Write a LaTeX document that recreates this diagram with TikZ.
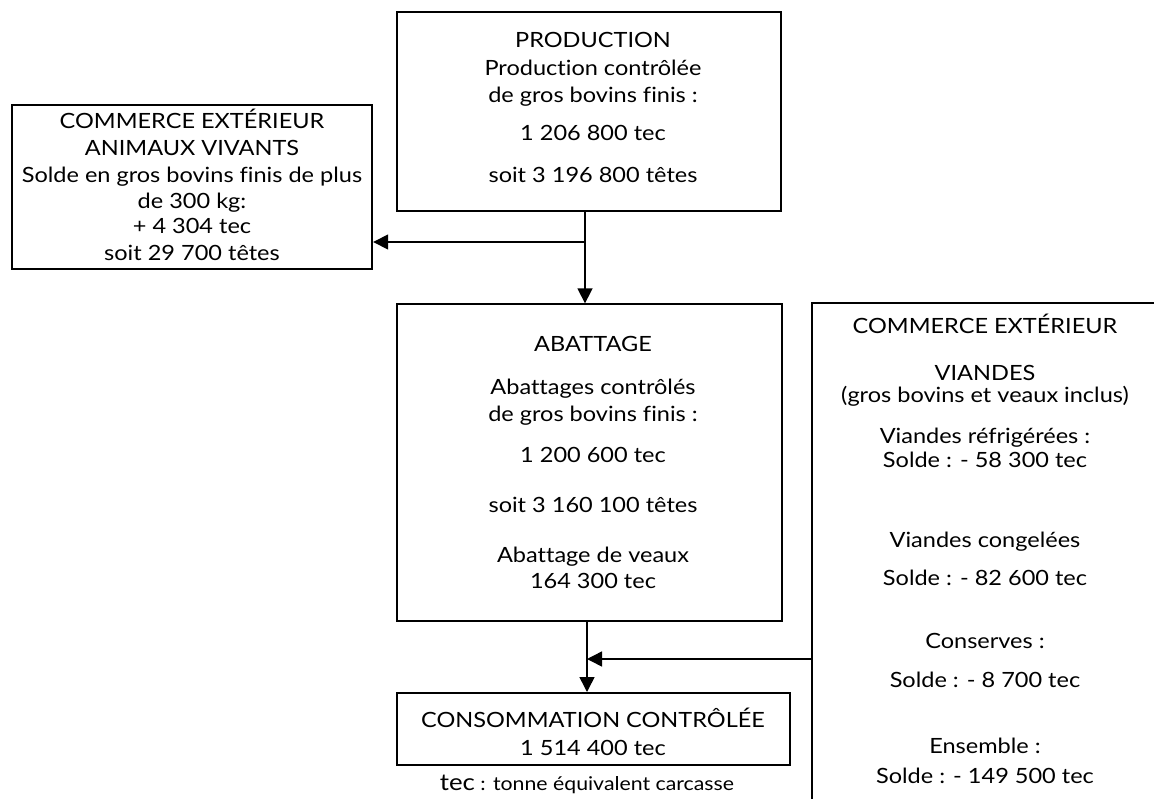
\documentclass[tikz,border=0pt]{standalone}
\usepackage{fontspec}
\setmainfont[FakeStretch=1.12,Ligatures=NoCommon]{Lato}
\usetikzlibrary{arrows.meta}
\begin{document}
\begin{tikzpicture}[x=1pt,y=-1pt,
  box/.style={draw,inner sep=0pt,rectangle},
  thin box/.style={box,line width=1.3pt},
  thick box/.style={box,line width=2.4pt},
  txt/.style={anchor=base,inner sep=0pt,font=\fontsize{21}{25}\selectfont},
  arr/.style={line width=1.5pt,-{Triangle[length=15pt,width=15pt]}}]
\useasboundingbox (0,0) rectangle (1154,798);
% boxes
\node[thin box,minimum width=384pt,minimum height=199pt] (prod) at (589,111.5) {};
\node[thick box,minimum width=360pt,minimum height=164pt] (ext) at (192,187) {};
\node[thin box,minimum width=385pt,minimum height=317pt] (abat) at (589.5,462.5) {};
\node[box,line width=2pt,minimum width=393pt,minimum height=72pt] (cons) at (593.5,729) {};
\node[thick box,minimum width=358pt,minimum height=512pt] (viandes) at (991,559) {};
% texts
\foreach \t/\y [count=\i] in {PRODUCTION/47,Production contrôlée/75,de gros bovins finis :/102,1 206 800 tec/140,soit 3 196 800 têtes/182}
  \node[txt] (prodt\i) at (593,\y) {\t};
\foreach \t/\y [count=\i] in {COMMERCE EXTÉRIEUR/128,ANIMAUX VIVANTS/155,Solde en gros bovins finis de plus/182,de 300 kg:/208,+ 4 304 tec/233,soit 29 700 têtes/260}
  \node[txt] (extt\i) at (192,\y) {\t};
\foreach \t/\y [count=\i] in {ABATTAGE/351,Abattages contrôlés/394,de gros bovins finis :/421,1 200 600 tec/462,soit 3 160 100 têtes/512,Abattage de veaux/562,164 300 tec/588}
  \node[txt] (abatt\i) at (593,\y) {\t};
\foreach \t/\y [count=\i] in {COMMERCE EXTÉRIEUR/333,VIANDES/380,{(gros bovins et veaux inclus)}/402,Viandes réfrigérées :/443,Solde : - 58 300 tec/467,Viandes congelées/547,Solde : - 82 600 tec/585,Conserves :/648,Solde : - 8 700 tec/687,Ensemble :/753,Solde : - 149 500 tec/783}
  \node[txt] (viat\i) at (985,\y) {\t};
\node[txt] (const1) at (593,727) {CONSOMMATION CONTRÔLÉE};
\node[txt] (const2) at (593,755) {1 514 400 tec};
\node[anchor=base,inner sep=0pt] (note) at (587,790) {{\fontsize{23}{27}\selectfont tec}{\fontsize{19}{23}\selectfont\ : tonne équivalent carcasse}};
% connectors
\coordinate (j1) at (585,242);
\coordinate (j2) at (587,659);
\draw[arr] (j1 |- prod.south) -- (j1 |- abat.north);
\draw[arr] (j1) -- (ext.east |- j1);
\draw[arr] (j2 |- abat.south) -- (j2 |- cons.north);
\draw[arr] (viandes.west |- j2) -- (j2);
\end{tikzpicture}
\end{document}
